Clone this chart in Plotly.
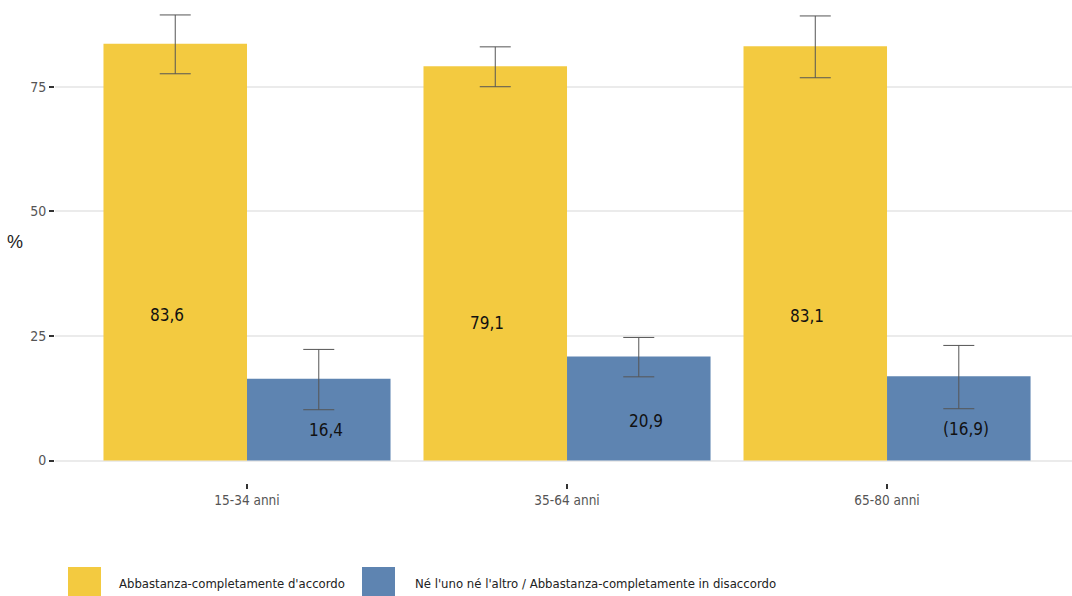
import plotly.graph_objects as go

categories = ["15-34 anni", "35-64 anni", "65-80 anni"]
series_names = ["Abbastanza-completamente d'accordo",
                "Né l'uno né l'altro / Abbastanza-completamente in disaccordo"]
agree_values = [83.6, 79.1, 83.1]
agree_upper = [89.4, 83.0, 89.2]
agree_lower = [77.6, 75.0, 76.8]
disagree_values = [16.4, 20.9, 16.9]
disagree_upper = [22.3, 24.7, 23.1]
disagree_lower = [10.2, 16.8, 10.4]
agree_labels = ["83,6", "79,1", "83,1"]
disagree_labels = ["16,4", "20,9", "(16,9)"]
y_ticks = [0, 25, 50, 75]

colors = ["#F3CA40", "#5E84B1"]
NARROW = "Liberation Sans Narrow, Arial Narrow, DejaVu Sans Condensed, sans-serif"

fig = go.Figure()
series = [
    (agree_values, agree_upper, agree_lower, agree_labels),
    (disagree_values, disagree_upper, disagree_lower, disagree_labels),
]
for i, (vals, up, lo, labs) in enumerate(series):
    fig.add_trace(go.Bar(
        x=categories, y=vals, name=series_names[i],
        marker=dict(color=colors[i], line=dict(width=0)),
        error_y=dict(type="data", symmetric=False,
                     array=[u - v for u, v in zip(up, vals)],
                     arrayminus=[v - l for v, l in zip(vals, lo)],
                     color="#555555", thickness=1, width=15.5),
        showlegend=False,
        offsetgroup=str(i),
    ))

# value labels
frac = [0.35, 0.38]
shift = [-8, 7]
offs = [-0.2245, 0.2245]
for i, (vals, up, lo, labs) in enumerate(series):
    for j, (v, lab) in enumerate(zip(vals, labs)):
        fig.add_annotation(x=j + offs[i], y=v * frac[i], text=lab, showarrow=False,
                           xref="x", yref="y", xshift=shift[i],
                           font=dict(family=NARROW, size=17, color="#111111"))

W, H = 1072, 596
L, R, T, B = 55, 0, 0, 113
pw, ph = W - L - R, H - T - B

# y axis title
fig.add_annotation(x=(15 - L) / pw, y=0.5, xref="paper", yref="paper", text="%",
                   showarrow=False, xanchor="center",
                   font=dict(family="Liberation Sans, Arial", size=18, color="#222222"))

# manual legend
leg_x = [68, 362]
leg_text_x = [117, 413]
for i in range(2):
    x0 = (leg_x[i] - L) / pw
    x1 = (leg_x[i] + 33 - L) / pw
    y_top = (H - B - 567) / ph
    y_bot = (H - B - 600) / ph
    fig.add_shape(type="rect", xref="paper", yref="paper", x0=x0, x1=x1, y0=y_bot, y1=y_top,
                  fillcolor=colors[i], line=dict(width=0))
    fig.add_annotation(x=(leg_text_x[i] - L) / pw, y=(H - B - 583) / ph, xref="paper", yref="paper",
                       text=series_names[i], showarrow=False, xanchor="left", yanchor="middle",
                       font=dict(family=NARROW, size=13, color="#222222"))

fig.update_layout(
    width=W, height=H,
    margin=dict(l=L, r=R, t=T, b=B),
    paper_bgcolor="white", plot_bgcolor="white",
    barmode="group", bargap=0.103, bargroupgap=0,
    xaxis=dict(type="category", range=[-0.6, 2.578], showgrid=False, zeroline=False,
               ticks="outside", ticklen=5, tickwidth=2, tickcolor="#333333",
               tickfont=dict(family=NARROW, size=13.5, color="#555555"), showline=False),
    yaxis=dict(range=[-4.5, 92.4], tickvals=y_ticks, ticktext=[str(t) for t in y_ticks],
               showgrid=True, gridcolor="#EBEBEB", gridwidth=1.5, zeroline=False,
               ticks="outside", ticklen=5, tickwidth=2, tickcolor="#333333",
               tickfont=dict(family=NARROW, size=14, color="#555555"), showline=False),
    showlegend=False,
)

fig.write_html("out.html", config={"displayModeBar": False},
               post_script="document.body.style.margin='0';document.body.style.overflow='hidden';")
